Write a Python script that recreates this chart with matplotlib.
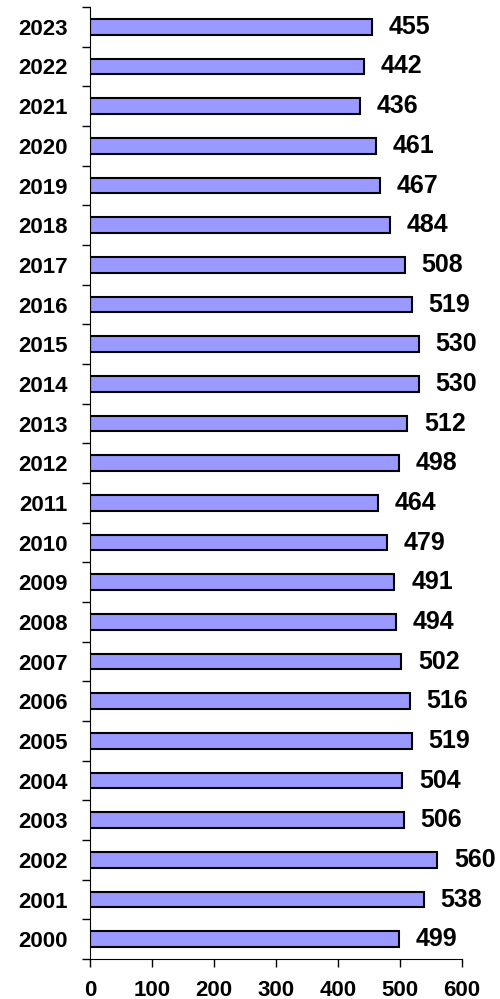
import numpy as np
import matplotlib
matplotlib.use("Agg")
import matplotlib.pyplot as plt

# data
years = [str(y) for y in range(2000, 2024)]
values = [499, 538, 560, 506, 504, 519, 516, 502, 494, 491, 479, 464,
          498, 512, 530, 530, 519, 508, 484, 467, 461, 436, 442, 455]
xticks = [0, 100, 200, 300, 400, 500, 600]

plt.rcParams['font.family'] = ['Liberation Sans', 'DejaVu Sans']

fig = plt.figure(figsize=(5, 9.99), dpi=100)
ax = fig.add_axes([0.18, 0.04, 0.744, 0.953])

pos = np.arange(len(years))
ax.barh(pos, values, height=0.4, color='#9999ff', edgecolor='black', linewidth=1.5)

for p, v in zip(pos, values):
    ax.text(v + 27, p, str(v), va='center', ha='left', fontsize=18, fontweight='bold')

ax.set_xlim(0, 600)
ax.set_ylim(-0.5, len(years) - 0.5)
ax.set_xticks(xticks)
ax.set_xticklabels([str(t) for t in xticks], fontsize=16, fontweight='bold')

# year labels at bar centres, tick marks between categories
ax.set_yticks(pos)
ax.set_yticklabels(years, fontsize=16, fontweight='bold')
ax.tick_params(axis='y', which='major', length=0, pad=16)
ax.set_yticks(np.arange(-0.5, len(years), 1), minor=True)
ax.tick_params(axis='y', which='minor', length=6, width=1, direction='out')
ax.tick_params(axis='x', length=6, width=1, direction='out', pad=9)

ax.spines['top'].set_visible(False)
ax.spines['right'].set_visible(False)

fig.savefig("out.png", dpi=100)
